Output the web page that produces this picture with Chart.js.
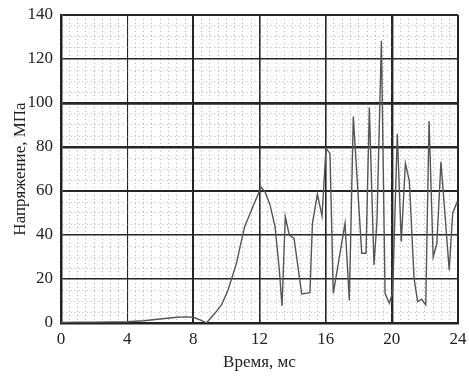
<!DOCTYPE html>
<html>
<head>
<meta charset="utf-8">
<script src="https://cdn.jsdelivr.net/npm/chart.js@4"></script>
<style>
  html, body { margin: 0; padding: 0; background: #fff; }
  #wrap { width: 469px; height: 378px; }
</style>
</head>
<body>
<div id="wrap"><canvas id="myChart" width="469" height="378"></canvas></div>
<script>
// Время, мс
const times = [
  0, 1, 2, 3, 4, 5, 6, 7, 7.5, 8, 8.4, 8.8,
  9.3, 9.7, 10.1, 10.6, 11.1, 11.5, 11.85, 12.1, 12.33, 12.64, 12.94, 13.2, 13.36,
  13.56, 13.8, 14.09, 14.55, 15.05, 15.2, 15.5, 15.78, 16.02, 16.26, 16.46,
  17.17, 17.43, 17.67, 18.18, 18.44, 18.64, 18.92, 19.1, 19.37, 19.59, 19.85, 20.05,
  20.33, 20.57, 20.82, 21.06, 21.34, 21.56, 21.8, 22.05, 22.25, 22.5, 22.72, 22.97,
  23.47, 23.68, 23.93, 24
];
// Напряжение, МПа
const stress = [
  0.3, 0.4, 0.4, 0.5, 0.6, 1.0, 1.8, 2.6, 2.8, 2.6, 1.4, 0.1,
  4.4, 8.2, 15, 27, 43.8, 51, 57.4, 61.7, 59.7, 53.6, 43.8, 24, 7.7,
  48.3, 40, 38.5, 13.2, 13.8, 45.3, 58.6, 48.6, 79.4, 77.1, 13.5,
  45.3, 10.2, 93.8, 31.7, 31.7, 98, 26.4, 46, 128.3, 13.5, 9, 14,
  86, 37, 72.6, 64.5, 20.5, 9.7, 10.8, 8.2, 91.8, 30, 36, 73.3,
  24, 50, 54.7, 54
];
const xTickLabels = [0, 4, 8, 12, 16, 20, 24];
const yTickLabels = [0, 20, 40, 60, 80, 100, 120, 140];

const serif = "'Liberation Serif', 'DejaVu Serif', serif";

// толщина основных линий сетки (как на оригинале)
const xMajorWidth = { 0: 2, 4: 1.1, 8: 2, 12: 1.6, 16: 1.6, 20: 2.4, 24: 2 };
const yMajorWidth = { 0: 2, 20: 1.4, 40: 1.4, 60: 2, 80: 2.6, 100: 2.8, 120: 1.4, 140: 2 };

function isMajor(labels, v) {
  return labels.some(t => Math.abs(t - v) < 1e-6);
}

const ctx = document.getElementById('myChart').getContext('2d');
new Chart(ctx, {
  type: 'line',
  data: {
    datasets: [{
      data: times.map((t, i) => ({ x: t, y: stress[i] })),
      borderColor: '#555',
      borderWidth: 1.4,
      pointRadius: 0,
      tension: 0,
      fill: false
    }]
  },
  options: {
    responsive: false,
    animation: false,
    layout: { padding: { top: 15, right: 11, left: 0, bottom: 0 } },
    plugins: { legend: { display: false }, tooltip: { enabled: false } },
    scales: {
      x: {
        type: 'linear',
        min: 0,
        max: 24,
        afterFit: s => { s.height = 55; s.paddingLeft = 0; s.paddingRight = 0; },
        ticks: {
          stepSize: 0.5,
          autoSkip: false,
          maxTicksLimit: 100,
          maxRotation: 0,
          padding: 6,
          color: '#222',
          font: { family: serif, size: 17 },
          callback: v => isMajor(xTickLabels, v) ? String(v) : ''
        },
        grid: {
          drawTicks: false,
          color: c => isMajor(xTickLabels, c.tick.value) ? '#262626' : '#b4b4b4',
          lineWidth: c => isMajor(xTickLabels, c.tick.value) ? (xMajorWidth[c.tick.value] || 1.3) : 1
        },
        border: {
          color: '#222',
          width: 2.5,
          dash: c => (c.tick && !isMajor(xTickLabels, c.tick.value)) ? [1, 3] : []
        },
        title: {
          display: true,
          text: 'Время, мс',
          color: '#222',
          font: { family: serif, size: 17 },
          padding: { top: 0, bottom: 5 }
        }
      },
      y: {
        min: 0,
        max: 140,
        afterFit: s => { s.width = 61; s.paddingTop = 0; s.paddingBottom = 0; },
        ticks: {
          stepSize: 5,
          autoSkip: false,
          maxTicksLimit: 100,
          padding: 8,
          color: '#222',
          font: { family: serif, size: 17 },
          callback: v => isMajor(yTickLabels, v) ? String(v) : ''
        },
        grid: {
          drawTicks: false,
          color: c => isMajor(yTickLabels, c.tick.value) ? '#262626' : '#b4b4b4',
          lineWidth: c => isMajor(yTickLabels, c.tick.value) ? (yMajorWidth[c.tick.value] || 1.3) : 1
        },
        border: {
          color: '#222',
          width: 2.5,
          dash: c => (c.tick && !isMajor(yTickLabels, c.tick.value)) ? [1, 3] : []
        },
        title: {
          display: true,
          text: 'Напряжение, МПа',
          color: '#222',
          font: { family: serif, size: 17 },
          padding: { top: 10, bottom: 0 }
        }
      }
    }
  }
});
</script>
</body>
</html>
